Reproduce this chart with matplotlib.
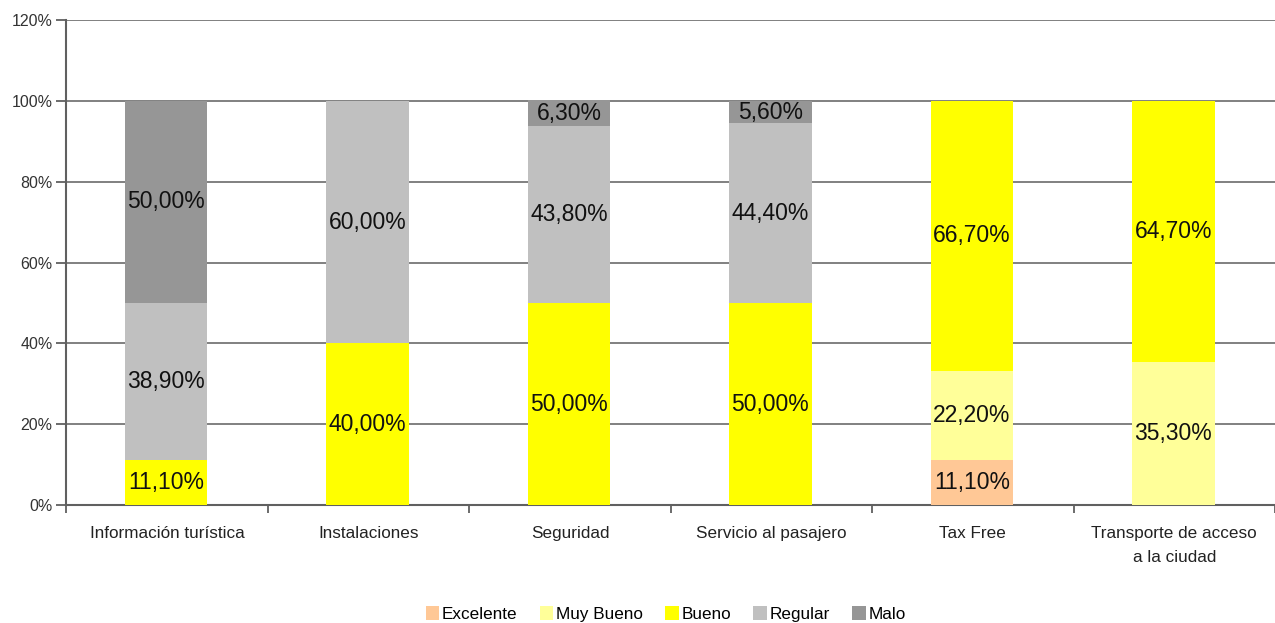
import matplotlib
matplotlib.use("Agg")
import matplotlib.pyplot as plt
import numpy as np
from matplotlib.ticker import FuncFormatter, FixedLocator

plt.rcParams['font.family'] = ['Liberation Sans', 'DejaVu Sans']

categories = ["Información turística", "Instalaciones", "Seguridad",
              "Servicio al pasajero", "Tax Free", "Transporte de acceso\na la ciudad"]
series_names = ["Excelente", "Muy Bueno", "Bueno", "Regular", "Malo"]
excelente = [0.0, 0.0, 0.0, 0.0, 11.1, 0.0]
muy_bueno = [0.0, 0.0, 0.0, 0.0, 22.2, 35.3]
bueno = [11.1, 40.0, 50.0, 50.0, 66.7, 64.7]
regular = [38.9, 60.0, 43.8, 44.4, 0.0, 0.0]
malo = [50.0, 0.0, 6.3, 5.6, 0.0, 0.0]
colors = ["#FFC896", "#FFFF99", "#FFFF00", "#C0C0C0", "#969696"]
y_ticks = [0, 20, 40, 60, 80, 100, 120]

series = [excelente, muy_bueno, bueno, regular, malo]

fig = plt.figure(figsize=(12.75, 6.23), dpi=100)
ax = fig.add_axes([0.052, 0.189, 0.948, 0.779])

x = np.arange(len(categories))
bottom = np.zeros(len(categories))
for name, vals, col in zip(series_names, series, colors):
    vals = np.array(vals) / 100.0
    ax.bar(x - 0.005, vals, 0.41, bottom=bottom, color=col, label=name, zorder=3)
    for xi, v, b in zip(x, vals, bottom):
        if v > 0:
            ax.text(xi - 0.005, b + v / 2, f"{v*100:.2f}%".replace(".", ","),
                    ha="center", va="center", fontsize=16.5, color="#111111", zorder=4)
    bottom = bottom + vals

ax.set_xlim(-0.5, len(categories) - 0.5)
ax.set_ylim(0, 1.2)
ax.yaxis.set_major_locator(FixedLocator([t / 100 for t in y_ticks]))
ax.yaxis.set_major_formatter(FuncFormatter(lambda v, p: f"{v*100:.0f}%"))
ax.grid(axis="y", color="#808080", linewidth=1.4, zorder=0)
ax.set_axisbelow(True)

ax.set_xticks(x)
ax.set_xticklabels(categories, fontsize=12.3, color="#222222", linespacing=1.75)
ax.tick_params(axis="x", length=0, pad=15)
ax.set_xticks(np.arange(len(categories) + 1) - 0.5, minor=True)
ax.tick_params(axis="x", which="minor", length=6, width=1.3, color="#606060", direction="out")
ax.tick_params(axis="y", length=7, width=1.3, color="#606060", labelsize=11.5,
               labelcolor="#333333", pad=3)

for s in ["top", "right"]:
    ax.spines[s].set_visible(False)
for s in ["left", "bottom"]:
    ax.spines[s].set_color("#606060")
    ax.spines[s].set_linewidth(1.5)

fig.legend(loc="lower center", bbox_to_anchor=(0.522, -0.023), ncol=5, frameon=False,
           fontsize=12.3, handlelength=0.8, handleheight=0.8, handletextpad=0.15,
           columnspacing=1.3)

fig.savefig("out.png", dpi=100)
